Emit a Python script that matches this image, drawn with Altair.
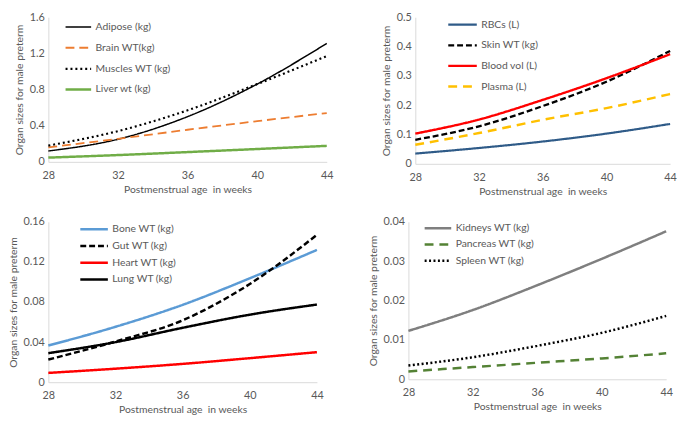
import altair as alt
import pandas as pd

FONT = "Lato"
GRAY = "#595959"
AXIS_LINE = "#D9D9D9"

weeks = [28, 32, 36, 40, 44]

# Panel 1
p1_names = ["Adipose (kg)", "Brain WT(kg)", "Muscles WT (kg)", "Liver wt (kg)"]
p1_values = {
    "Adipose (kg)": [0.12, 0.25, 0.50, 0.86, 1.31],
    "Brain WT(kg)": [0.16, 0.255, 0.355, 0.45, 0.54],
    "Muscles WT (kg)": [0.18, 0.34, 0.57, 0.86, 1.17],
    "Liver wt (kg)": [0.047, 0.075, 0.108, 0.142, 0.177],
}
p1_colors = ["#000000", "#ED7D31", "#000000", "#70AD47"]
p1_dash = [[1, 0], [9, 5], [2, 3], [1, 0]]
p1_width = [1.5, 2.5, 2.5, 2.5]

# Panel 2
p2_names = ["RBCs (L)", "Skin WT (kg)", "Blood vol (L)", "Plasma (L)"]
p2_values = {
    "RBCs (L)": [0.035, 0.054, 0.076, 0.103, 0.136],
    "Skin WT (kg)": [0.082, 0.128, 0.197, 0.280, 0.385],
    "Blood vol (L)": [0.103, 0.151, 0.218, 0.292, 0.374],
    "Plasma (L)": [0.065, 0.105, 0.150, 0.190, 0.238],
}
p2_colors = ["#2F5B88", "#000000", "#FF0000", "#FFC000"]
p2_dash = [[1, 0], [6, 3], [1, 0], [9, 6]]
p2_width = [2.2, 2.5, 2.5, 2.5]

# Panel 3
p3_names = ["Bone WT (kg)", "Gut WT (kg)", "Heart WT (kg)", "Lung WT (kg)"]
p3_values = {
    "Bone WT (kg)": [0.0366, 0.0553, 0.0772, 0.1037, 0.132],
    "Gut WT (kg)": [0.0226, 0.0406, 0.0618, 0.098, 0.147],
    "Heart WT (kg)": [0.0093, 0.0135, 0.0183, 0.024, 0.030],
    "Lung WT (kg)": [0.029, 0.040, 0.0543, 0.0674, 0.0775],
}
p3_colors = ["#5B9BD5", "#000000", "#FF0000", "#000000"]
p3_dash = [[1, 0], [6, 3], [1, 0], [1, 0]]
p3_width = [2.5, 2.5, 2.5, 2.5]

# Panel 4
p4_names = ["Kidneys WT (kg)", "Pancreas WT (kg)", "Spleen WT (kg)"]
p4_values = {
    "Kidneys WT (kg)": [0.0123, 0.0176, 0.0239, 0.0306, 0.0376],
    "Pancreas WT (kg)": [0.0020, 0.0031, 0.0042, 0.0053, 0.0066],
    "Spleen WT (kg)": [0.0035, 0.0056, 0.0085, 0.0118, 0.0161],
}
p4_colors = ["#7F7F7F", "#548235", "#000000"]
p4_dash = [[1, 0], [9, 6], [2, 2.5]]
p4_width = [2.5, 2.5, 2]

x_ticks = [28, 32, 36, 40, 44]
X_TITLE = "Postmenstrual age \u00a0in weeks"
Y_TITLE = "Organ sizes for male preterm"


def panel(names, values, colors, dash, widths, ymax, yticks, w, h,
          lx, ly, row_pad, sym_len):
    rows = []
    for n in names:
        for wk, v in zip(weeks, values[n]):
            rows.append({"week": wk, "value": v, "series": n})
    df = pd.DataFrame(rows)
    # wide horizontal stroke drawn from a smaller nominal symbol box
    box = 16
    half = sym_len / box
    ext = (sym_len - box) / 2
    leg = dict(orient="none", legendX=lx + ext, legendY=ly, title=None,
               symbolType=f"M-{half:.3f},0H{half:.3f}", symbolSize=box ** 2,
               labelOffset=3 + ext,
               labelFont=FONT, labelFontSize=10.5, labelColor=GRAY,
               rowPadding=row_pad, padding=0, symbolStrokeWidth=2.5,
               symbolFillColor="transparent")
    ch = alt.Chart(df).mark_line(interpolate="monotone").encode(
        x=alt.X("week:Q",
                scale=alt.Scale(domain=[28, 44], nice=False, zero=False),
                axis=alt.Axis(values=x_ticks, title=X_TITLE,
                              grid=False, ticks=False, domainColor=AXIS_LINE,
                              labelPadding=8, titlePadding=4,
                              labelFlush=False)),
        y=alt.Y("value:Q",
                scale=alt.Scale(domain=[0, ymax], nice=False),
                axis=alt.Axis(values=yticks, format="~g", title=Y_TITLE,
                              grid=False, ticks=False, domainColor=AXIS_LINE,
                              labelPadding=4, titlePadding=5, labelFlush=False)),
        color=alt.Color("series:N", scale=alt.Scale(domain=names, range=colors),
                        legend=alt.Legend(**leg)),
        strokeDash=alt.StrokeDash("series:N", scale=alt.Scale(domain=names, range=dash),
                                  legend=alt.Legend(**leg)),
        strokeWidth=alt.StrokeWidth("series:N", scale=alt.Scale(domain=names, range=widths),
                                    legend=alt.Legend(**leg)),
    )
    return ch.properties(width=w, height=h)


c1 = panel(p1_names, p1_values, p1_colors, p1_dash, p1_width, 1.6,
           [0, 0.4, 0.8, 1.2, 1.6], 283, 147, 16, 1, 6, 26)
c2 = panel(p2_names, p2_values, p2_colors, p2_dash, p2_width, 0.5,
           [0, 0.1, 0.2, 0.3, 0.4, 0.5], 259, 149, 32, -2, 6, 29)
c3 = panel(p3_names, p3_values, p3_colors, p3_dash, p3_width, 0.16,
           [0, 0.04, 0.08, 0.12, 0.16], 273, 163, 31, -2, 2, 28)
c4 = panel(p4_names, p4_values, p4_colors, p4_dash, p4_width, 0.04,
           [0, 0.01, 0.02, 0.03, 0.04], 262, 160, 15, -3, 1.5, 27)

indep = dict(color="independent", strokeDash="independent", strokeWidth="independent")

row1 = alt.hconcat(c1, c2, spacing=48).resolve_scale(**indep).resolve_legend(**indep)
row2 = alt.hconcat(c3, c4, spacing=45).resolve_scale(**indep).resolve_legend(**indep)

chart = alt.vconcat(row1, row2, spacing=19).resolve_scale(**indep).resolve_legend(**indep).configure(
    font=FONT,
    padding={"left": 0, "top": 0, "right": 0, "bottom": 0},
).configure_axis(
    labelFont=FONT, labelFontSize=11, labelColor=GRAY,
    titleFont=FONT, titleFontSize=10.5, titleColor=GRAY, titleFontWeight="normal",
).configure_view(stroke=None)

chart.save("out.html", embed_options={"renderer": "svg", "actions": False})
